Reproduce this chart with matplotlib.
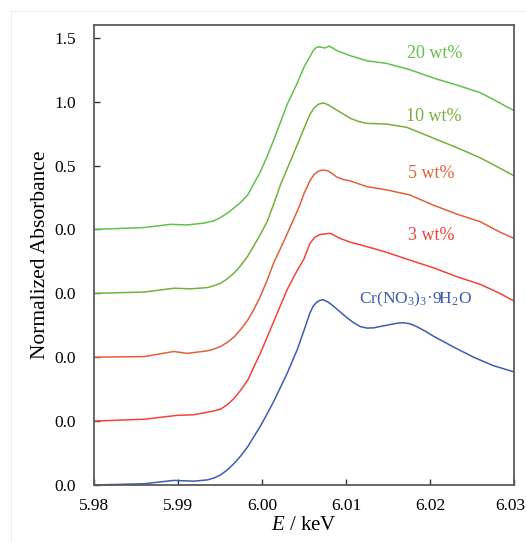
import matplotlib.pyplot as plt
import matplotlib.transforms as mtransforms
from matplotlib.lines import Line2D

plt.rcParams['font.family'] = ['Liberation Serif', 'DejaVu Serif']
plt.rcParams['mathtext.fontset'] = 'custom'
plt.rcParams['mathtext.rm'] = 'Liberation Serif'
plt.rcParams['mathtext.it'] = 'Liberation Serif:italic'

# energy (keV) / normalized absorbance
e_20 = [5.980, 5.986, 5.9891, 5.9911, 5.9931, 5.9943, 5.9951, 5.9959, 5.9967, 5.9975, 5.9983,
        5.9990, 5.9998, 6.0006, 6.0014, 6.0022, 6.0030, 6.0042, 6.0050, 6.0061, 6.0064,
        6.0067, 6.0071, 6.0075, 6.0080, 6.0084, 6.0089, 6.0097, 6.0105, 6.0125, 6.0148,
        6.0176, 6.0204, 6.0232, 6.0260, 6.0283, 6.0300]
a_20 = [0.0, 0.015, 0.04, 0.035, 0.05, 0.068, 0.095, 0.128, 0.17, 0.214, 0.27,
        0.355, 0.45, 0.57, 0.70, 0.84, 0.98, 1.145, 1.27, 1.40, 1.42,
        1.43, 1.425, 1.42, 1.435, 1.42, 1.40, 1.38, 1.36, 1.32, 1.30,
        1.25, 1.185, 1.13, 1.07, 0.99, 0.93]

e_10 = [5.980, 5.986, 5.9895, 5.9915, 5.9935, 5.9943, 5.9951, 5.9959, 5.9967, 5.9975, 5.9983,
        5.9990, 5.9998, 6.0006, 6.0014, 6.0022, 6.0038, 6.0045, 6.0050, 6.0057, 6.0062,
        6.0067, 6.0073, 6.0079, 6.0085, 6.0095, 6.0105, 6.0115, 6.0125, 6.0148, 6.0172,
        6.0204, 6.0232, 6.0260, 6.0283, 6.0300]
a_10 = [0.0, 0.01, 0.04, 0.035, 0.045, 0.06, 0.08, 0.115, 0.16, 0.22, 0.29,
        0.37, 0.46, 0.56, 0.70, 0.85, 1.10, 1.21, 1.29, 1.40, 1.45,
        1.48, 1.49, 1.475, 1.45, 1.41, 1.37, 1.345, 1.33, 1.325, 1.30,
        1.215, 1.14, 1.06, 0.98, 0.92]

e_5 = [5.980, 5.986, 5.9895, 5.9911, 5.9935, 5.9943, 5.9951, 5.9959, 5.9967, 5.9975, 5.9983,
       5.9990, 5.9998, 6.0006, 6.0014, 6.0024, 6.0035, 6.0045, 6.0050, 6.0057, 6.0062,
       6.0067, 6.0072, 6.0078, 6.0083, 6.0089, 6.0097, 6.0105, 6.0125, 6.0148, 6.0176,
       6.0204, 6.0232, 6.0260, 6.0283, 6.0300]
a_5 = [0.0, 0.005, 0.045, 0.03, 0.05, 0.065, 0.085, 0.118, 0.16, 0.22, 0.29,
       0.37, 0.475, 0.60, 0.74, 0.88, 1.04, 1.19, 1.28, 1.38, 1.43,
       1.455, 1.465, 1.46, 1.44, 1.41, 1.39, 1.38, 1.335, 1.31, 1.27,
       1.19, 1.12, 1.06, 0.98, 0.93]

e_3 = [5.980, 5.986, 5.9899, 5.9919, 5.9935, 5.9943, 5.9951, 5.9959, 5.9967, 5.9975, 5.9983,
       5.9990, 5.9998, 6.0006, 6.0014, 6.0022, 6.0030, 6.0042, 6.0050, 6.0057, 6.0063,
       6.0069, 6.0075, 6.0081, 6.0087, 6.0093, 6.0105, 6.0117, 6.0144, 6.0176, 6.0204,
       6.0232, 6.0260, 6.0283, 6.0300]
a_3 = [0.0, 0.015, 0.045, 0.05, 0.07, 0.08, 0.095, 0.13, 0.18, 0.245, 0.32,
       0.42, 0.53, 0.655, 0.78, 0.905, 1.03, 1.18, 1.27, 1.39, 1.44,
       1.46, 1.465, 1.47, 1.45, 1.43, 1.40, 1.38, 1.33, 1.26, 1.20,
       1.13, 1.07, 1.00, 0.94]

e_ref = [5.980, 5.986, 5.9895, 5.9919, 5.9935, 5.9943, 5.9951, 5.9959, 5.9967, 5.9975, 5.9983,
         5.9990, 5.9998, 6.0006, 6.0014, 6.0022, 6.0030, 6.0042, 6.0050, 6.0057, 6.0061,
         6.0065, 6.0069, 6.0073, 6.0079, 6.0085, 6.0093, 6.0101, 6.0109, 6.0117, 6.0125,
         6.0133, 6.0142, 6.0152, 6.0160, 6.0168, 6.0176, 6.0184, 6.0194, 6.0204, 6.0228,
         6.0252, 6.0275, 6.0300]
a_ref = [0.0, 0.01, 0.036, 0.03, 0.04, 0.055, 0.08, 0.12, 0.17, 0.23, 0.30,
         0.375, 0.46, 0.555, 0.655, 0.765, 0.875, 1.06, 1.21, 1.345, 1.40,
         1.43, 1.445, 1.45, 1.43, 1.40, 1.355, 1.31, 1.27, 1.24, 1.228,
         1.23, 1.242, 1.255, 1.265, 1.27, 1.262, 1.24, 1.205, 1.165, 1.08,
         1.00, 0.935, 0.885]

samples = ['20 wt%', '10 wt%', '5 wt%', '3 wt%', r'Cr(NO$_3$)$_3$·9H$_2$O']
energies = [e_20, e_10, e_5, e_3, e_ref]
absorb = [a_20, a_10, a_5, a_3, a_ref]
offsets = [0.0, -0.5, -1.0, -1.5, -2.0]
colors = ['#62c04c', '#76b03c', '#e2603a', '#f2433a', '#3d5cb3']
# label anchors (energy, normalized absorbance of that curve)
label_x = [6.0206, 6.0204, 6.0201, 6.0201, 6.0183]
label_y = [1.38, 1.38, 1.44, 1.45, 1.45]
label_size = [13, 13, 13, 13, 12.5]

yticks = [1.5, 1.0, 0.5, 0.0, -0.5, -1.0, -1.5, -2.0]
ytick_labels = ['1.5', '1.0', '0.5', '0.0', '0.0', '0.0', '0.0', '0.0']
xticks = [5.98, 5.99, 6.00, 6.01, 6.02, 6.03]

fig = plt.figure(figsize=(5.26, 5.42), dpi=100)
ax = fig.add_axes([94 / 526, 1 - 485 / 542, 420 / 526, 460 / 542])

for e, a, off, c in zip(energies, absorb, offsets, colors):
    ax.plot(e, [v + off for v in a], color=c, lw=1.1, clip_on=False)

for name, x, y, off, c, fs in zip(samples, label_x, label_y, offsets, colors, label_size):
    ax.text(x, y + off, name, color=c, fontsize=fs, ha='center', va='center')

ax.set_xlim(5.98, 6.03)
ax.set_ylim(-2.0, 1.6)
ax.set_xticks(xticks)
ax.set_xticklabels(['%.2f' % t for t in xticks])
ax.set_yticks(yticks)
ax.set_yticklabels(ytick_labels)
ax.tick_params(direction='in', length=4, width=1.0, color='#333333', labelsize=12.5)
ax.tick_params(axis='y', pad=13)
ax.tick_params(axis='x', pad=9)
for s in ax.spines.values():
    s.set_color('#5a5a5a')
    s.set_linewidth(1.3)

# keep the last tick label inside the picture
last = ax.get_xticklabels()[-1]
last.set_transform(last.get_transform() + mtransforms.ScaledTranslation(-4 / 100, 0, fig.dpi_scale_trans))

ax.set_xlabel(r'$E$ / keV', fontsize=15, labelpad=2)
ax.set_ylabel('Normalized Absorbance', fontsize=15.5, labelpad=3)

# faint frame around the figure
fig.add_artist(Line2D([11 / 526, 11 / 526], [0, 1 - 11 / 542], color='#e4eef6', lw=0.8))
fig.add_artist(Line2D([11 / 526, 1], [1 - 11 / 542, 1 - 11 / 542], color='#e4eef6', lw=0.8))

fig.savefig('out.png', dpi=100)
